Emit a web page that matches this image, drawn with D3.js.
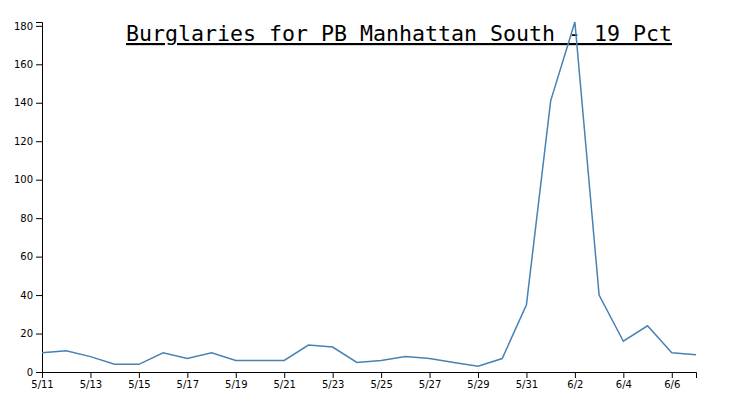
<!DOCTYPE html>
<html>
<head>
<meta charset="utf-8">
<script src="https://cdn.jsdelivr.net/npm/d3@7"></script>
<style>
  body { margin: 0; background: #fff; }
  .axis text { font-family: "DejaVu Sans", sans-serif; font-size: 10px; fill: #000; }
  .axis path, .axis line { stroke: #000; }
</style>
</head>
<body>
<svg id="chart" width="739" height="395"></svg>
<script>
const dates = ["2020-05-11","2020-05-12","2020-05-13","2020-05-14","2020-05-15","2020-05-16","2020-05-17",
  "2020-05-18","2020-05-19","2020-05-20","2020-05-21","2020-05-22","2020-05-23","2020-05-24","2020-05-25",
  "2020-05-26","2020-05-27","2020-05-28","2020-05-29","2020-05-30","2020-05-31","2020-06-01","2020-06-02",
  "2020-06-03","2020-06-04","2020-06-05","2020-06-06","2020-06-07"];
const burglaries = [10,11,8,4,4,10,7,10,6,6,6,14,13,5,6,8,7,5,3,7,35,141,182,40,16,24,10,9];
const xTickLabels = ["5/11","5/13","5/15","5/17","5/19","5/21","5/23","5/25","5/27","5/29","5/31","6/2","6/4","6/6"];
const yTicks = [0,20,40,60,80,100,120,140,160,180];
const title = "Burglaries for PB Manhattan South - 19 Pct";

const parse = d3.timeParse("%Y-%m-%d");
const data = dates.map((d, i) => ({ date: parse(d), value: burglaries[i] }));

const margin = { top: 22, right: 43, bottom: 23, left: 42 };
const W = 739, H = 395;
const svg = d3.select("#chart");

svg.append("text")
  .attr("x", 399).attr("y", 41)
  .attr("text-anchor", "middle")
  .style("font-family", "'DejaVu Sans Mono', monospace")
  .style("font-size", "21.6px")
  .style("text-decoration", "underline")
  .text(title);

const g = svg.append("g").attr("transform", `translate(${margin.left},${margin.top})`);
const w = W - margin.left - margin.right, h = H - margin.top - margin.bottom;

const x = d3.scaleTime().domain(d3.extent(data, d => d.date)).range([0, w]);
const y = d3.scaleLinear().domain([0, d3.max(burglaries)]).range([h, 0]);

const fmt = d3.timeFormat("%-m/%-d");
const tickDates = data.map(d => d.date).filter(d => xTickLabels.includes(fmt(d)));

g.append("g").attr("class", "axis").attr("transform", `translate(0,${h})`)
  .call(d3.axisBottom(x).tickValues(tickDates).tickFormat(fmt));
g.append("g").attr("class", "axis")
  .call(d3.axisLeft(y).tickValues(yTicks));

g.append("path").datum(data)
  .attr("fill", "none").attr("stroke", "steelblue").attr("stroke-width", 1.5)
  .attr("d", d3.line().x(d => x(d.date)).y(d => y(d.value)));
</script>
</body>
</html>
